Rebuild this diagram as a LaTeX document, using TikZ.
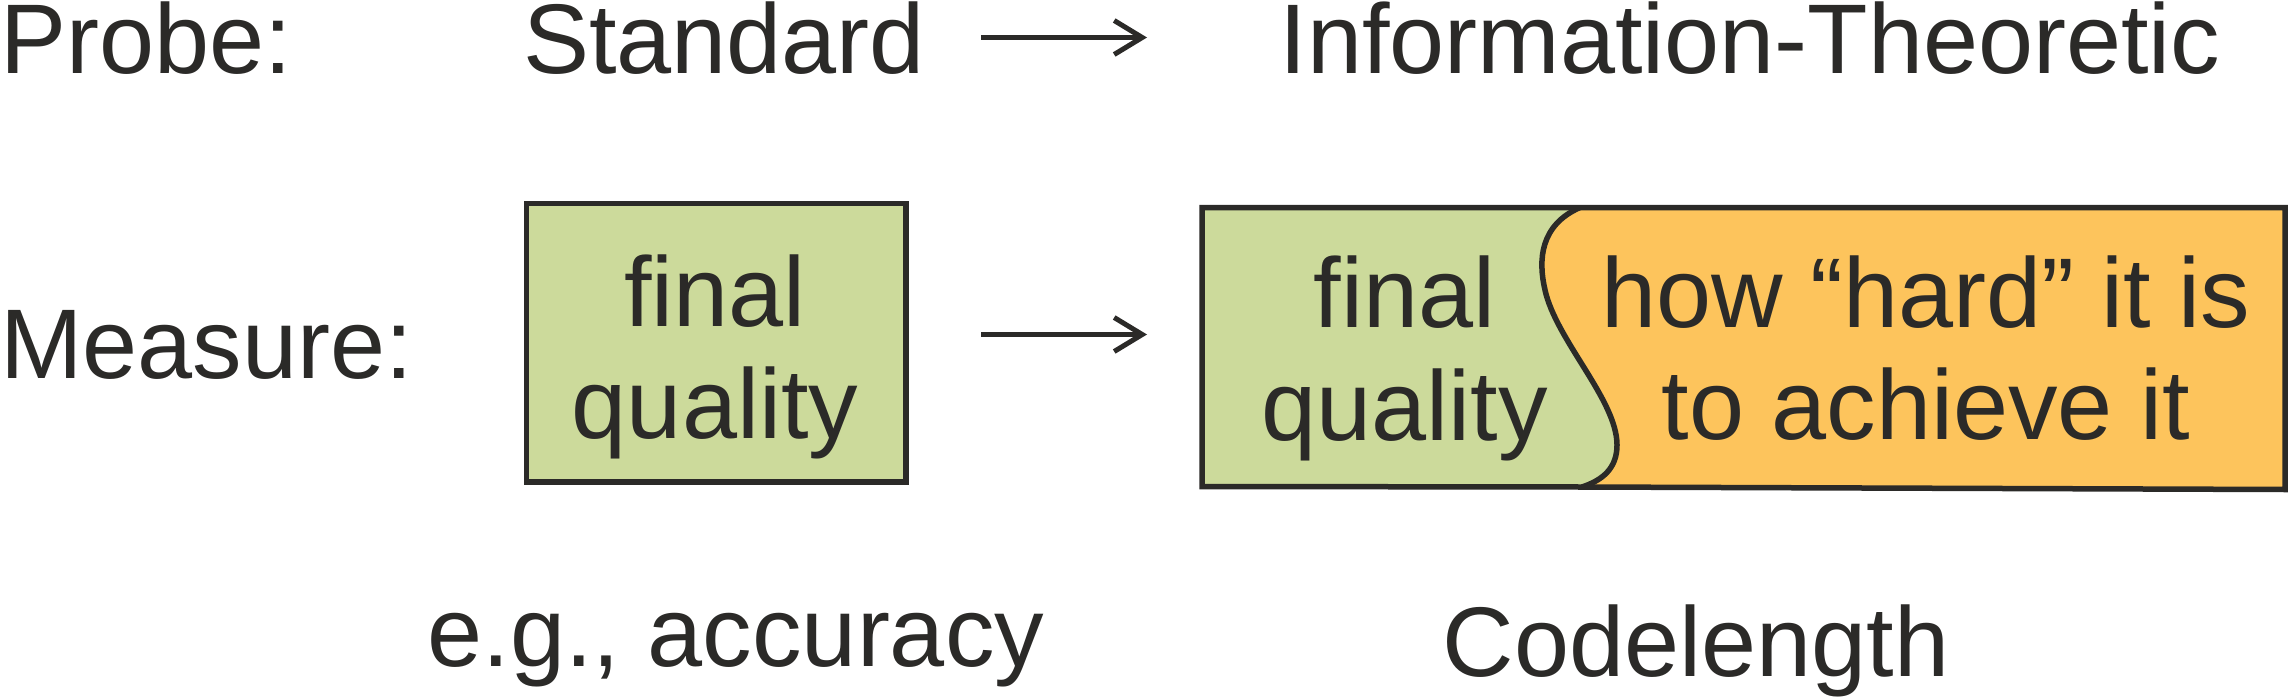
\documentclass[tikz,border=0pt]{standalone}
\usepackage{fontspec}
\setmainfont{Liberation Sans}
\usetikzlibrary{arrows.meta}
\definecolor{ink}{HTML}{2B2A28}
\definecolor{boxgreen}{HTML}{CCDA9B}
\definecolor{boxorange}{HTML}{FDC45C}
\begin{document}
\begin{tikzpicture}[x=1pt,y=-1pt,
  txt/.style={inner sep=0pt, outer sep=0pt, text=ink, font=\fontsize{99}{112}\selectfont},
  border/.style={draw=ink, line width=5.5pt, line join=miter},
  arr/.style={draw=ink, line width=5pt, -{Straight Barb[length=28pt,width=34pt]}}]
\useasboundingbox (0,0) rectangle (2290,698);
% top row
\node[txt, anchor=base west] (probe) at (0,74) {Probe:};
\node[txt, anchor=base] (std) at (724,74) {Standard};
\node[txt, anchor=base] (it) at (1750,74) {Information-Theoretic};
\coordinate (a1s) at (981,37.5);
\coordinate (a1e) at (1147,37.5);
\draw[arr] (a1s) -- (a1e);
% middle row
\node[txt, anchor=base west] (measure) at (0,378.3) {Measure:};
\node[border, fill=boxgreen, minimum width=379.3pt, minimum height=278.7pt, inner sep=0pt] (lbox) at (716.3,342.7) {};
\node[txt, anchor=base] (lfinal) at (715,326) {final};
\node[txt, anchor=base] (lquality) at (715,438.3) {quality};
\coordinate (a2s) at (981,334.5);
\coordinate (a2e) at (1147,334.5);
\draw[arr] (a2s) -- (a2e);
% right box
\coordinate (rtl) at (1202,207.5);
\coordinate (rtr) at (2285,207.5);
\coordinate (rbr) at (2285,489.5);
\coordinate (rbl) at (1202,486.5);
\coordinate (ct) at (1580,207.5);
\coordinate (cb) at (1582,487);
\fill[boxorange] (rtl) -- (rtr) -- (rbr) -- (cb) -- (rbl) -- cycle;
\fill[boxgreen] (rtl) -- (ct) .. controls (1540,225) and (1538,260) .. (1545,290)
  .. controls (1556,340) and (1617,400) .. (1617,445)
  .. controls (1617,468) and (1603,480) .. (cb) -- (rbl) -- cycle;
\draw[border] (ct) .. controls (1540,225) and (1538,260) .. (1545,290)
  .. controls (1556,340) and (1617,400) .. (1617,445)
  .. controls (1617,468) and (1603,480) .. (cb);
\draw[border] (rtl) -- (rtr) -- (rbr) -- (cb) -- (rbl) -- cycle;
\node[txt, anchor=base] (rfinal) at (1404.5,327.7) {final};
\node[txt, anchor=base] (rquality) at (1404.5,440) {quality};
\node[txt, anchor=base] (hard) at (1926,327) {how “hard” it is};
\node[txt, anchor=base] (achieve) at (1926,439) {to achieve it};
% bottom row
\node[txt, anchor=base] (acc) at (736,666.7) {e.g., accuracy};
\node[txt, anchor=base] (code) at (1696,676.7) {Codelength};
\end{tikzpicture}
\end{document}
